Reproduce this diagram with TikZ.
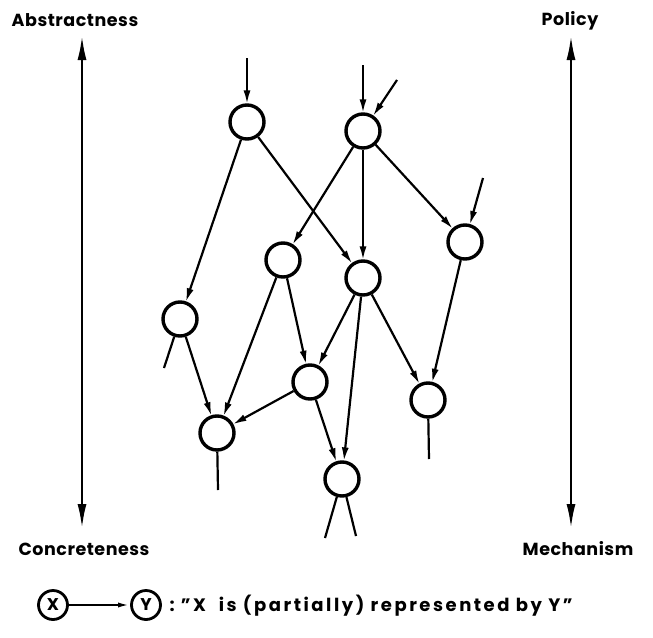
\documentclass[tikz,border=0pt]{standalone}
\usepackage{fontspec}
\setmainfont{Poppins}
\usetikzlibrary{arrows.meta}
\begin{document}
\begin{tikzpicture}[x=1pt,y=-1pt,
  circ/.style={circle,draw,line width=3.4pt,minimum size=34pt,inner sep=0pt},
  lcirc/.style={circle,draw,line width=2.8pt,minimum size=29pt,inner sep=0pt,font=\fontsize{17}{17}\selectfont\bfseries},
  edge/.style={line width=2.2pt,-{Latex[length=14pt,width=7pt]},shorten >=-1pt},
  dangle/.style={line width=2.2pt},
  axis/.style={line width=2.2pt,{Latex[length=24pt,width=9pt]}-{Latex[length=24pt,width=9pt]}},
  lab/.style={font=\fontsize{17.5}{18}\selectfont\bfseries\addfontfeature{LetterSpace=3}}]
\useasboundingbox (0,0) rectangle (653,637);
% nodes
\node[circ] (A) at (247,122) {};
\node[circ] (B) at (363,131) {};
\node[circ] (C) at (465,242) {};
\node[circ] (D) at (283,260) {};
\node[circ] (E) at (363,278) {};
\node[circ] (F) at (180,319) {};
\node[circ] (G) at (310,382) {};
\node[circ] (H) at (428,400) {};
\node[circ] (I) at (217,433) {};
\node[circ] (J) at (342,479) {};
% free ends
\coordinate (a0) at (247,58);
\coordinate (b0) at (363,65);
\coordinate (b1) at (397,80);
\coordinate (c0) at (483,178);
\coordinate (f0) at (164,368);
\coordinate (i0) at (218,490);
\coordinate (h0) at (429,459);
\coordinate (j0) at (325,538);
\coordinate (j1) at (356,536);
% incoming
\draw[edge] (a0) -- (A);
\draw[edge] (b0) -- (B);
\draw[edge] (b1) -- (B);
\draw[edge] (c0) -- (C);
% edges
\draw[edge] (A) -- (F);
\draw[edge] (A) -- (E);
\draw[edge] (B) -- (D);
\draw[edge] (B) -- (E);
\draw[edge] (B) -- (C);
\draw[edge] (C) -- (H);
\draw[edge] (D) -- (I);
\draw[edge] (D) -- (G);
\draw[edge] (E) -- (G);
\draw[edge] (E) -- (J);
\draw[edge] (E) -- (H);
\draw[edge] (F) -- (I);
\draw[edge] (G) -- (I);
\draw[edge] (G) -- (J);
% dangling
\draw[dangle] (F) -- (f0);
\draw[dangle] (I) -- (i0);
\draw[dangle] (H) -- (h0);
\draw[dangle] (J) -- (j0);
\draw[dangle] (J) -- (j1);
% axes
\coordinate (lt) at (82,36);
\coordinate (lb) at (82,528);
\coordinate (rt) at (571,36);
\coordinate (rb) at (571,528);
\draw[axis] (lt) -- (lb);
\draw[axis] (rt) -- (rb);
\node[lab] (abs) at (75,20) {Abstractness};
\node[lab] (pol) at (570,21) {Policy};
\node[lab] (con) at (84,549) {Concreteness};
\node[lab] (mec) at (578,549) {Mechanism};
% legend
\node[lcirc] (X) at (53,605) {X};
\node[lcirc] (Y) at (146,605) {Y};
\draw[line width=2pt,-{Latex[length=12pt,width=5pt]}] (X) -- (Y);
\node[anchor=west,font=\fontsize{18}{18}\selectfont\bfseries\addfontfeature{LetterSpace=14}] (leg) at (166,606) {:~"X~~is~(partially)~represented~by~Y"};
\end{tikzpicture}
\end{document}
